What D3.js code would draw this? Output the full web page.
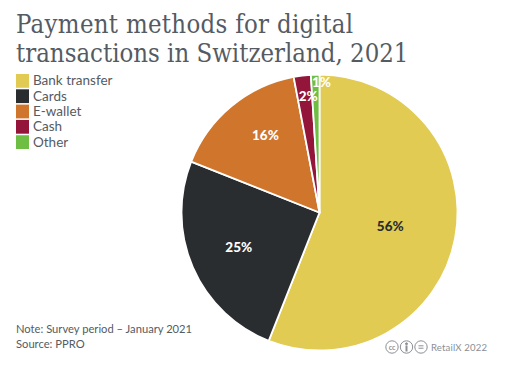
<!DOCTYPE html>
<html>
<head>
<meta charset="utf-8">
<script src="https://d3js.org/d3.v7.min.js"></script>
<style>
  html, body { margin: 0; padding: 0; background: #fff; }
  svg { display: block; }
</style>
</head>
<body>
<script>
// chart data
const categories = ["Bank transfer", "Cards", "E-wallet", "Cash", "Other"];
const values = [56, 25, 16, 2, 1];
const colors = ["#e1cb52", "#2a2d30", "#d0752c", "#93153a", "#6fbe44"];
const titleLines = ["Payment methods for digital", "transactions in Switzerland, 2021"];
const noteLines = ["Note: Survey period – January 2021", "Source: PPRO"];

const width = 511;
const height = 379;
const bodyFont = "Lato, sans-serif";
const textColor = "#555b63";

var svg = d3.select("body")
  .append("svg")
  .attr("width", width)
  .attr("height", height);

// title, first line needs a little tracking to reach the same width
const titleSpacing = [0.3, 0];
svg.append("g").selectAll("text")
  .data(titleLines)
  .enter()
  .append("text")
  .attr("x", 16)
  .attr("y", (d, i) => 33 + i * 29)
  .attr("font-family", "'DejaVu Serif Condensed', 'DejaVu Serif', serif")
  .attr("font-size", 25.5)
  .attr("letter-spacing", (d, i) => titleSpacing[i])
  .attr("fill", textColor)
  .text(d => d);

// legend
var legendY = d3.scaleBand()
  .domain(categories)
  .range([74, 149])
  .paddingInner(0.1);

var legend = svg.append("g").selectAll("g")
  .data(categories)
  .enter()
  .append("g")
  .attr("transform", d => "translate(16," + legendY(d) + ")");

legend.append("rect")
  .attr("width", 13)
  .attr("height", legendY.bandwidth())
  .attr("fill", (d, i) => colors[i]);

legend.append("text")
  .attr("x", 17)
  .attr("y", legendY.bandwidth() / 2 + 4.5)
  .attr("font-family", bodyFont)
  .attr("font-size", 13.5)
  .attr("fill", textColor)
  .text(d => d);

// pie
const radius = 138;
var pie = d3.pie().sort(null)(values);
var arc = d3.arc().innerRadius(0).outerRadius(radius);

var pieGroup = svg.append("g")
  .attr("transform", "translate(319.5,212.5)");

pieGroup.selectAll("path")
  .data(pie)
  .enter()
  .append("path")
  .attr("d", arc)
  .attr("fill", (d, i) => colors[i])
  .attr("stroke", "#fff")
  .attr("stroke-width", 1.8);

// labels are not quite on the slice bisector in the original, so nudge them
const labelRadius = [72, 88, 95, 118, 130];
const labelShiftX = [0, 0, 6.5, 3.5, 6];
const labelShiftY = [0, 0, -4.3, 0.5, 0];
const labelColors = ["#2a2d30", "#fff", "#fff", "#fff", "#fff"];

pieGroup.selectAll("text")
  .data(pie)
  .enter()
  .append("text")
  .attr("transform", function(d, i) {
    const mid = (d.startAngle + d.endAngle) / 2;
    const lx = Math.sin(mid) * labelRadius[i] + labelShiftX[i];
    const ly = -Math.cos(mid) * labelRadius[i] + labelShiftY[i];
    return "translate(" + lx + "," + ly + ")";
  })
  .attr("dy", "0.35em")
  .attr("text-anchor", "middle")
  .attr("font-family", bodyFont)
  .attr("font-weight", 900)
  .attr("font-size", 13.5)
  .attr("fill", (d, i) => labelColors[i])
  .text(d => d.value + "%");

// note and source
svg.append("g").selectAll("text")
  .data(noteLines)
  .enter()
  .append("text")
  .attr("x", 16)
  .attr("y", (d, i) => 333 + i * 15)
  .attr("font-family", bodyFont)
  .attr("font-size", 11.2)
  .attr("fill", textColor)
  .text(d => d);

// licence badges
const badgeColor = "#8a8f96";
var badges = svg.append("g")
  .attr("fill", "none")
  .attr("stroke", badgeColor)
  .attr("stroke-width", 1);

[392, 406.5, 421].forEach(function(cx) {
  badges.append("circle").attr("cx", cx).attr("cy", 347).attr("r", 6.2);
});

svg.append("text")
  .attr("x", 392)
  .attr("y", 349.5)
  .attr("text-anchor", "middle")
  .attr("font-family", bodyFont)
  .attr("font-weight", "bold")
  .attr("font-size", 7)
  .attr("fill", badgeColor)
  .text("cc");

badges.append("circle").attr("cx", 406.5).attr("cy", 343.8).attr("r", 1).attr("fill", badgeColor);
badges.append("line").attr("x1", 406.5).attr("x2", 406.5).attr("y1", 345.5).attr("y2", 351.5).attr("stroke-width", 2);
badges.append("line").attr("x1", 418.5).attr("x2", 423.5).attr("y1", 345.8).attr("y2", 345.8);
badges.append("line").attr("x1", 418.5).attr("x2", 423.5).attr("y1", 348.2).attr("y2", 348.2);

svg.append("text")
  .attr("x", 431)
  .attr("y", 350.5)
  .attr("font-family", bodyFont)
  .attr("font-size", 9.6)
  .attr("letter-spacing", 0.15)
  .attr("fill", badgeColor)
  .text("RetailX 2022");
</script>
</body>
</html>
